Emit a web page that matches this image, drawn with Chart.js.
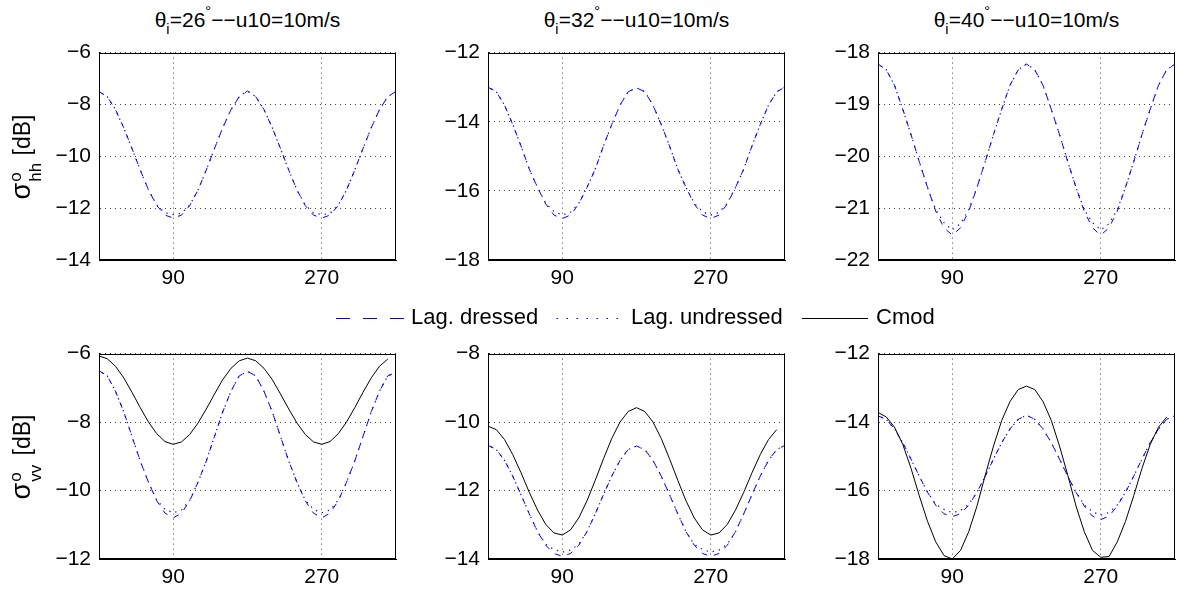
<!DOCTYPE html>
<html><head><meta charset="utf-8">
<script src="https://cdn.jsdelivr.net/npm/chart.js@4.4.0/dist/chart.umd.min.js"></script>
<style>
html,body{margin:0;padding:0;background:#fff;width:1177px;height:594px;overflow:hidden;font-family:"Liberation Sans",Arial,sans-serif;color:#000;}
.panel{position:absolute;}
.title{position:absolute;font-size:21px;line-height:21px;text-align:center;white-space:nowrap;width:320px;}
.title .sb{font-size:15px;position:relative;top:7px;}
.title .sp{font-size:15px;position:relative;top:-11px;}
.ylab{position:absolute;font-size:23px;line-height:26px;white-space:nowrap;transform:rotate(-90deg);text-align:center;width:160px;height:26px;}
.ylab .sig{font-size:27px;}
.ss{position:relative;display:inline-block;width:21px;height:10px;}
.ss .o{position:absolute;left:1px;top:-17px;font-size:17px;}
.ss .h{position:absolute;left:1px;top:3px;font-size:17px;}
.leg{position:absolute;font-size:22px;line-height:22px;white-space:nowrap;}
</style>
</head><body>
<div id="root"></div>
<svg style="position:absolute;left:0;top:0" width="1177" height="594">
  <line x1="336" y1="318.5" x2="404" y2="318.5" stroke="#0000ff" stroke-width="1" stroke-dasharray="14 13"/>
  <line x1="556.5" y1="318.5" x2="619" y2="318.5" stroke="#0000ff" stroke-width="1.2" stroke-dasharray="1.5 8.5"/>
  <line x1="802" y1="318.5" x2="868" y2="318.5" stroke="#000" stroke-width="1"/>
</svg>
<div class="leg" style="left:411px;top:306px">Lag. dressed</div>
<div class="leg" style="left:631px;top:306px">Lag. undressed</div>
<div class="leg" style="left:876px;top:306px">Cmod</div>
<script>
// ---- data ----
const angles = [0,10,20,30,40,50,60,70,80,90,100,110,120,130,140,150,160,170,180,190,200,210,220,230,240,250,260,270,280,290,300,310,320,330,340,350,360];
const cmodAngles = [0,10,20,30,40,50,60,70,80,90,100,110,120,130,140,150,160,170,180,190,200,210,220,230,240,250,260,270,280,290,300,310,320,330,340,350];
const xTickValues = [90, 270];

const hh26Dressed = [-7.50,-7.70,-8.20,-8.90,-9.70,-10.53,-11.30,-11.90,-12.27,-12.38,-12.27,-11.90,-11.30,-10.53,-9.70,-8.90,-8.20,-7.70,-7.48,-7.70,-8.20,-8.90,-9.70,-10.53,-11.30,-11.90,-12.27,-12.38,-12.27,-11.90,-11.30,-10.53,-9.70,-8.90,-8.20,-7.70,-7.50];
const hh26Undressed = [-7.50,-7.70,-8.20,-8.90,-9.70,-10.53,-11.30,-11.88,-12.18,-12.25,-12.20,-11.88,-11.30,-10.53,-9.70,-8.90,-8.20,-7.70,-7.48,-7.70,-8.20,-8.90,-9.70,-10.53,-11.30,-11.88,-12.18,-12.25,-12.20,-11.88,-11.30,-10.53,-9.70,-8.90,-8.20,-7.70,-7.50];
const hh32Dressed = [-13.00,-13.13,-13.52,-14.08,-14.70,-15.37,-15.90,-16.38,-16.70,-16.80,-16.70,-16.38,-15.90,-15.37,-14.70,-14.08,-13.52,-13.13,-13.02,-13.13,-13.52,-14.08,-14.70,-15.37,-15.90,-16.38,-16.70,-16.80,-16.70,-16.38,-15.90,-15.37,-14.70,-14.08,-13.52,-13.13,-13.00];
const hh32Undressed = [-13.00,-13.13,-13.52,-14.08,-14.70,-15.37,-15.90,-16.36,-16.60,-16.70,-16.62,-16.36,-15.90,-15.37,-14.70,-14.08,-13.52,-13.13,-13.02,-13.13,-13.52,-14.08,-14.70,-15.37,-15.90,-16.36,-16.60,-16.70,-16.62,-16.36,-15.90,-15.37,-14.70,-14.08,-13.52,-13.13,-13.00];
const hh40Dressed = [-18.22,-18.33,-18.63,-19.09,-19.58,-20.10,-20.60,-21.06,-21.38,-21.52,-21.38,-21.06,-20.60,-20.10,-19.58,-19.09,-18.63,-18.33,-18.22,-18.33,-18.63,-19.09,-19.58,-20.10,-20.60,-21.06,-21.38,-21.52,-21.38,-21.06,-20.60,-20.10,-19.58,-19.09,-18.63,-18.33,-18.22];
const hh40Undressed = [-18.22,-18.33,-18.63,-19.09,-19.58,-20.10,-20.60,-21.03,-21.28,-21.42,-21.30,-21.03,-20.60,-20.10,-19.58,-19.09,-18.63,-18.33,-18.22,-18.33,-18.63,-19.09,-19.58,-20.10,-20.60,-21.03,-21.28,-21.42,-21.30,-21.03,-20.60,-20.10,-19.58,-19.09,-18.63,-18.33,-18.22];
const vv26Dressed = [-6.50,-6.65,-7.10,-7.70,-8.42,-9.14,-9.76,-10.30,-10.66,-10.80,-10.66,-10.30,-9.76,-9.14,-8.42,-7.70,-7.10,-6.65,-6.52,-6.65,-7.10,-7.70,-8.42,-9.14,-9.76,-10.30,-10.66,-10.80,-10.66,-10.30,-9.76,-9.14,-8.42,-7.70,-7.10,-6.65,-6.55];
const vv26Undressed = [-6.50,-6.65,-7.10,-7.70,-8.42,-9.14,-9.76,-10.28,-10.55,-10.65,-10.57,-10.28,-9.76,-9.14,-8.42,-7.70,-7.10,-6.65,-6.52,-6.65,-7.10,-7.70,-8.42,-9.14,-9.76,-10.28,-10.55,-10.65,-10.57,-10.28,-9.76,-9.14,-8.42,-7.70,-7.10,-6.65,-6.55];
const vv26Cmod = [-6.07,-6.15,-6.37,-6.71,-7.13,-7.58,-8.00,-8.34,-8.57,-8.65,-8.58,-8.36,-8.03,-7.62,-7.18,-6.76,-6.43,-6.21,-6.13,-6.21,-6.43,-6.76,-7.18,-7.62,-8.03,-8.36,-8.58,-8.65,-8.57,-8.34,-8.00,-7.58,-7.13,-6.71,-6.37,-6.16];
const vv32Dressed = [-10.68,-10.80,-11.12,-11.58,-12.12,-12.68,-13.20,-13.60,-13.84,-13.92,-13.84,-13.60,-13.20,-12.68,-12.12,-11.58,-11.12,-10.80,-10.70,-10.80,-11.12,-11.58,-12.12,-12.68,-13.20,-13.60,-13.84,-13.92,-13.84,-13.60,-13.20,-12.68,-12.12,-11.58,-11.12,-10.80,-10.68];
const vv32Undressed = [-10.68,-10.80,-11.12,-11.58,-12.12,-12.68,-13.20,-13.57,-13.72,-13.80,-13.74,-13.57,-13.20,-12.68,-12.12,-11.58,-11.12,-10.80,-10.70,-10.80,-11.12,-11.58,-12.12,-12.68,-13.20,-13.57,-13.72,-13.80,-13.74,-13.57,-13.20,-12.68,-12.12,-11.58,-11.12,-10.80,-10.68];
const vv32Cmod = [-10.12,-10.22,-10.51,-10.95,-11.48,-12.05,-12.57,-12.99,-13.24,-13.30,-13.15,-12.80,-12.30,-11.70,-11.07,-10.48,-10.00,-9.69,-9.58,-9.69,-10.00,-10.48,-11.07,-11.70,-12.30,-12.80,-13.15,-13.30,-13.24,-12.99,-12.57,-12.05,-11.48,-10.95,-10.51,-10.22];
const vv40Dressed = [-13.82,-13.92,-14.20,-14.60,-15.08,-15.58,-16.05,-16.43,-16.68,-16.76,-16.68,-16.43,-16.05,-15.58,-15.08,-14.60,-14.20,-13.92,-13.80,-13.92,-14.20,-14.60,-15.08,-15.58,-16.05,-16.45,-16.75,-16.85,-16.75,-16.45,-16.05,-15.58,-15.08,-14.60,-14.20,-13.92,-13.82];
const vv40Undressed = [-13.82,-13.92,-14.20,-14.60,-15.08,-15.58,-16.05,-16.40,-16.55,-16.65,-16.58,-16.40,-16.05,-15.58,-15.08,-14.60,-14.20,-13.92,-13.80,-13.92,-14.20,-14.60,-15.08,-15.58,-16.05,-16.42,-16.62,-16.72,-16.64,-16.42,-16.05,-15.58,-15.08,-14.60,-14.20,-13.92,-13.82];
const vv40Cmod = [-13.72,-13.85,-14.15,-14.65,-15.35,-16.15,-16.90,-17.50,-17.90,-18.00,-17.75,-17.20,-16.45,-15.55,-14.70,-13.95,-13.40,-13.05,-12.95,-13.05,-13.40,-13.95,-14.70,-15.55,-16.45,-17.20,-17.75,-17.95,-17.93,-17.50,-16.90,-16.15,-15.35,-14.65,-14.15,-13.85];

const yTicksHH26 = [-14,-12,-10,-8,-6];
const yTicksHH32 = [-18,-16,-14,-12];
const yTicksHH40 = [-22,-21,-20,-19,-18];
const yTicksVV26 = [-12,-10,-8,-6];
const yTicksVV32 = [-14,-12,-10,-8];
const yTicksVV40 = [-18,-16,-14,-12];

const seriesNames = ['Lag. dressed','Lag. undressed','Cmod'];
const incidence = ['26','32','40'];

// ---- layout ----
const colLeft = [99, 488, 878];
const plotW = 297;
const rowTop = [53, 354];
const rowH = [208, 206];
const YW = 70, PT = 20, XH = 34, PR = 1;

const FONT = 'Liberation Sans, Arial, sans-serif';

const boxPlugin = {
  id: 'box',
  afterDraw(chart) {
    const a = chart.chartArea, ctx = chart.ctx;
    ctx.save();
    ctx.strokeStyle = '#000';
    ctx.lineWidth = 1;
    ctx.setLineDash([]);
    ctx.strokeRect(Math.round(a.left) + 0.5, Math.round(a.top) + 0.5, Math.round(a.right - a.left) - 1, Math.round(a.bottom - a.top) - 1);
    ctx.restore();
  }
};

function pts(xs, ys) { return ys.map((v, i) => ({x: xs[i], y: v})); }

function makePanel(row, col, yTicks, dressed, undressed, cmod) {
  const L = colLeft[col], T = rowTop[row], H = rowH[row];
  const div = document.createElement('div');
  div.className = 'panel';
  const w = YW + plotW + PR, h = PT + H + XH;
  div.style.left = (L - YW) + 'px';
  div.style.top = (T - PT) + 'px';
  div.style.width = w + 'px';
  div.style.height = h + 'px';
  const cv = document.createElement('canvas');
  cv.width = w; cv.height = h;
  cv.style.width = w + 'px'; cv.style.height = h + 'px';
  div.appendChild(cv);
  document.getElementById('root').appendChild(div);

  const datasets = [];
  if (cmod) datasets.push({label: seriesNames[2], data: pts(cmodAngles, cmod), borderColor: '#000', borderWidth: 1, pointRadius: 0, fill: false, tension: 0});
  datasets.push({label: seriesNames[0], data: pts(angles, dressed), borderColor: '#0000ff', borderWidth: 1, borderDash: [6, 7], pointRadius: 0, fill: false, tension: 0});
  datasets.push({label: seriesNames[1], data: pts(angles, undressed), borderColor: '#0000ff', borderWidth: 1.2, borderDash: [1.3, 5], borderDashOffset: 3, pointRadius: 0, fill: false, tension: 0});

  const fmt = v => String(v).replace('-', '\u2212');
  const chart = new Chart(cv, {
    type: 'line',
    data: {datasets},
    plugins: [boxPlugin],
    options: {
      responsive: false, animation: false, devicePixelRatio: 1,
      layout: {padding: {left: 0, top: PT, right: PR, bottom: 0}},
      plugins: {legend: {display: false}, tooltip: {enabled: false}, title: {display: false}},
      scales: {
        x: {
          type: 'linear', min: 0, max: 360,
          afterBuildTicks: s => { s.ticks = xTickValues.map(v => ({value: v})); },
          afterFit: s => { s.height = XH; },
          grid: {color: '#444', lineWidth: 1, drawTicks: false},
          border: {display: true, color: '#000', dash: [1, 4]},
          ticks: {color: '#000', font: {family: FONT, size: 21}, padding: 6, maxRotation: 0, callback: fmt}
        },
        y: {
          type: 'linear', min: yTicks[0], max: yTicks[yTicks.length - 1],
          afterBuildTicks: s => { s.ticks = yTicks.map(v => ({value: v})); },
          afterFit: s => { s.width = YW; },
          grid: {color: '#444', lineWidth: 1, drawTicks: false},
          border: {display: true, color: '#000', dash: [1, 4]},
          ticks: {color: '#000', font: {family: FONT, size: 21}, padding: 8, callback: fmt}
        }
      }
    }
  });
  const a = chart.chartArea;
  div.style.left = (L - a.left) + 'px';
  div.style.top = (T - a.top) + 'px';
  return chart;
}

makePanel(0, 0, yTicksHH26, hh26Dressed, hh26Undressed, null);
makePanel(0, 1, yTicksHH32, hh32Dressed, hh32Undressed, null);
makePanel(0, 2, yTicksHH40, hh40Dressed, hh40Undressed, null);
makePanel(1, 0, yTicksVV26, vv26Dressed, vv26Undressed, vv26Cmod);
makePanel(1, 1, yTicksVV32, vv32Dressed, vv32Undressed, vv32Cmod);
makePanel(1, 2, yTicksVV40, vv40Dressed, vv40Undressed, vv40Cmod);

const root = document.getElementById('root');
incidence.forEach((inc, c) => {
  const d = document.createElement('div');
  d.className = 'title';
  d.style.left = (colLeft[c] + plotW / 2 - 160) + 'px';
  d.style.top = '9px';
  d.innerHTML = '\u03b8<span class="sb">i</span>=' + inc + '<span class="sp">\u00b0</span>\u2212\u2212u10=10m/s';
  root.appendChild(d);
});
[['hh', 0], ['vv', 1]].forEach(([pol, r]) => {
  const d = document.createElement('div');
  d.className = 'ylab';
  const cy = rowTop[r] + rowH[r] / 2;
  d.style.left = (21 - 80) + 'px';
  d.style.top = (cy - 13) + 'px';
  d.innerHTML = '<span class="sig">\u03c3</span><span class="ss"><span class="o">o</span><span class="h">' + pol + '</span></span> [dB]';
  root.appendChild(d);
});
</script>
</body></html>
